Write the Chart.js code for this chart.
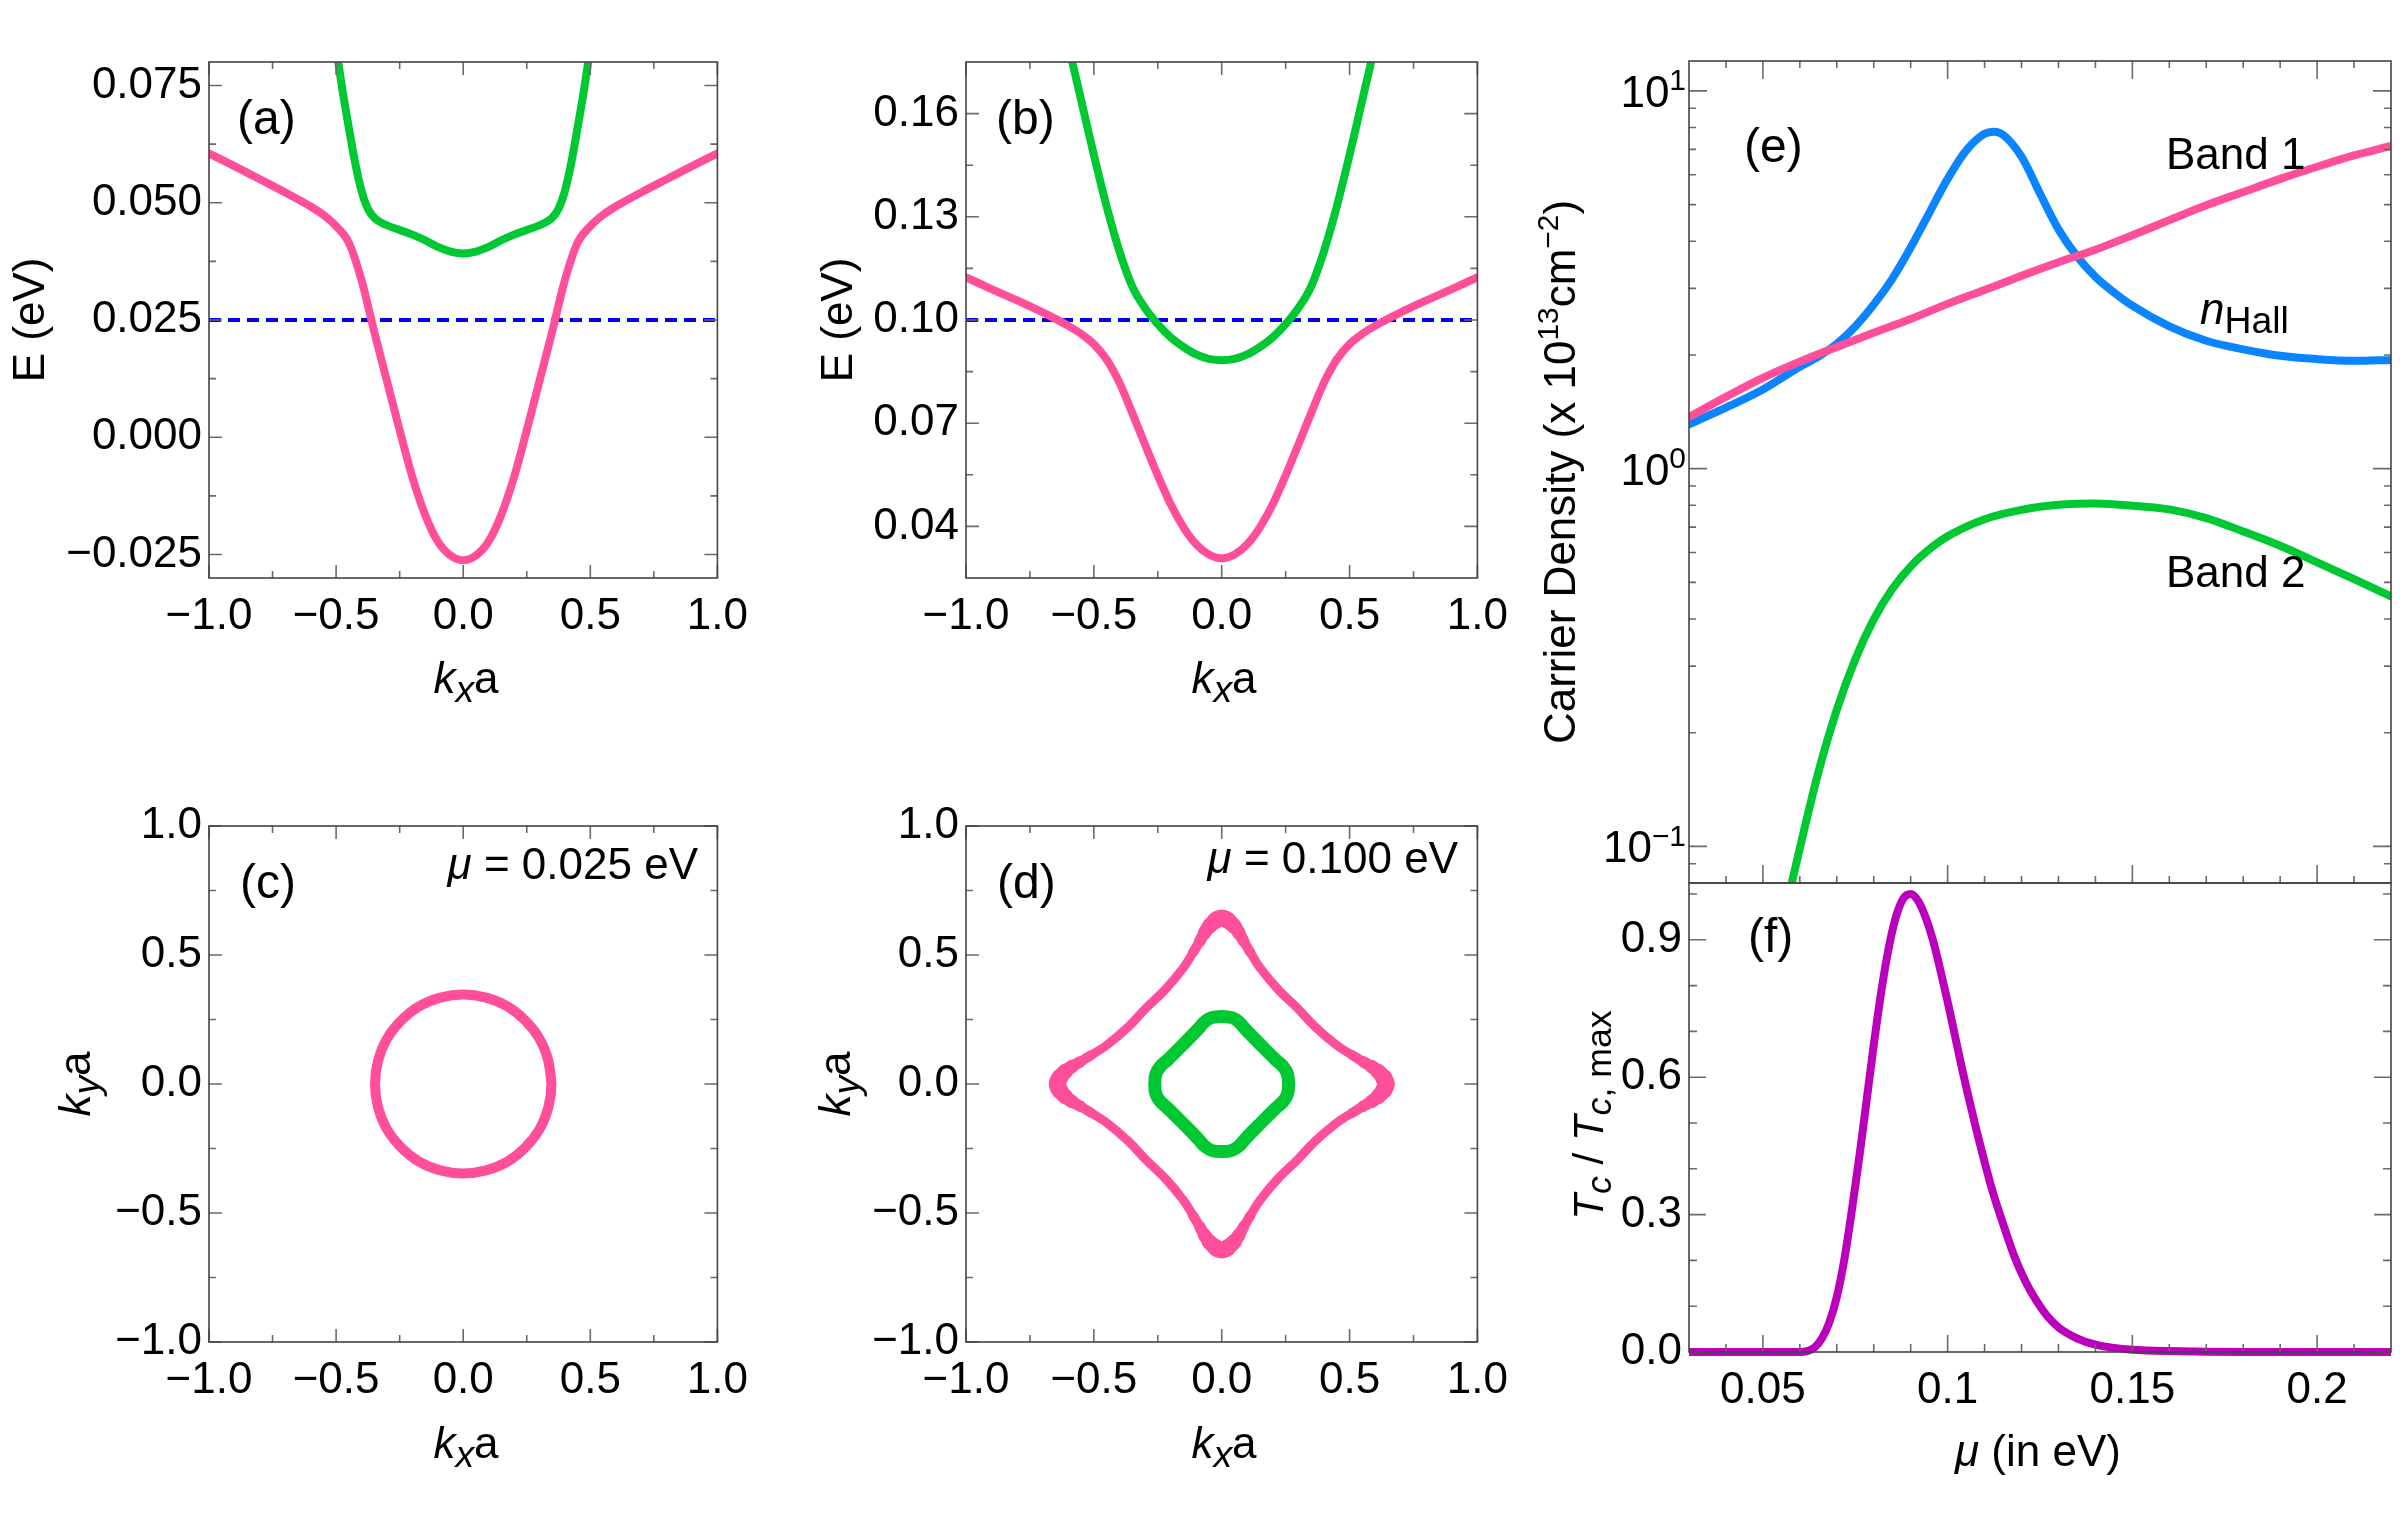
<!DOCTYPE html>
<html>
<head>
<meta charset="utf-8">
<title>Bands, Fermi surfaces and carrier density</title>
<script src="https://cdn.jsdelivr.net/npm/chart.js@4.4.1/dist/chart.umd.min.js"></script>
<style>
  html, body { margin: 0; padding: 0; background: #fff; }
  #page { position: relative; width: 2400px; height: 1521px; overflow: hidden; background: #fff; }
  canvas { position: absolute; }
</style>
</head>
<body>
<div id="page">
  <canvas id="chartA" width="760" height="740" style="left:0;top:0"></canvas>
  <canvas id="chartB" width="760" height="740" style="left:760px;top:0"></canvas>
  <canvas id="chartC" width="760" height="761" style="left:0;top:760px"></canvas>
  <canvas id="chartD" width="760" height="761" style="left:760px;top:760px"></canvas>
  <canvas id="chartE" width="900" height="890" style="left:1500px;top:0"></canvas>
  <canvas id="chartF" width="900" height="674" style="left:1500px;top:847px"></canvas>
</div>
<script>
const FONT = "'Liberation Sans', Arial, Helvetica, sans-serif";
const PINK = '#ff4f9b', GREEN = '#00c832', BLUE = '#0a84ff', PURPLE = '#bb00bb', DASH = '#0000f0';

// (a) dispersion along kx, mu = 0.025 eV
const kxA1 = [-1.0, -0.9, -0.8, -0.7, -0.6, -0.55, -0.5, -0.45, -0.4, -0.35, -0.3, -0.25, -0.2, -0.15, -0.1, -0.05, 0,
              0.05, 0.1, 0.15, 0.2, 0.25, 0.3, 0.35, 0.4, 0.45, 0.5, 0.55, 0.6, 0.7, 0.8, 0.9, 1.0];
const eA1 = [0.0605, 0.0578, 0.0550, 0.0522, 0.0492, 0.0474, 0.0450, 0.0415, 0.0335, 0.0225, 0.0120, 0.0015, -0.0085, -0.0165, -0.0222, -0.0252, -0.0262,
             -0.0252, -0.0222, -0.0165, -0.0085, 0.0015, 0.0120, 0.0225, 0.0335, 0.0415, 0.0450, 0.0474, 0.0492, 0.0522, 0.0550, 0.0578, 0.0605];
const kxA2 = [-0.5, -0.475, -0.45, -0.425, -0.4, -0.375, -0.35, -0.3, -0.25, -0.2, -0.15, -0.1, -0.05, 0,
              0.05, 0.1, 0.15, 0.2, 0.25, 0.3, 0.35, 0.375, 0.4, 0.425, 0.45, 0.475, 0.5];
const eA2 = [0.0830, 0.0740, 0.0660, 0.0585, 0.0525, 0.0487, 0.0468, 0.0452, 0.0442, 0.0432, 0.0420, 0.0406, 0.0396, 0.0392,
             0.0396, 0.0406, 0.0420, 0.0432, 0.0442, 0.0452, 0.0468, 0.0487, 0.0525, 0.0585, 0.0660, 0.0740, 0.0830];
const muA = 0.025;

// (b) dispersion along kx, mu = 0.100 eV
const kxB1 = [-1.0, -0.9, -0.8, -0.7, -0.6, -0.55, -0.5, -0.45, -0.4, -0.35, -0.3, -0.25, -0.2, -0.15, -0.1, -0.05, 0,
              0.05, 0.1, 0.15, 0.2, 0.25, 0.3, 0.35, 0.4, 0.45, 0.5, 0.55, 0.6, 0.7, 0.8, 0.9, 1.0];
const eB1 = [0.1124, 0.1090, 0.1057, 0.1022, 0.0983, 0.0960, 0.0930, 0.0885, 0.0818, 0.0730, 0.0638, 0.0548, 0.0465, 0.0398, 0.0348, 0.0318, 0.0307,
             0.0318, 0.0348, 0.0398, 0.0465, 0.0548, 0.0638, 0.0730, 0.0818, 0.0885, 0.0930, 0.0960, 0.0983, 0.1022, 0.1057, 0.1090, 0.1124];
const kxB2 = [-0.6, -0.55, -0.5, -0.45, -0.4, -0.35, -0.3, -0.25, -0.2, -0.15, -0.1, -0.05, 0,
              0.05, 0.1, 0.15, 0.2, 0.25, 0.3, 0.35, 0.4, 0.45, 0.5, 0.55, 0.6];
const eB2 = [0.1800, 0.1640, 0.1480, 0.1330, 0.1200, 0.1098, 0.1035, 0.0988, 0.0950, 0.0922, 0.0900, 0.0887, 0.0883,
             0.0887, 0.0900, 0.0922, 0.0950, 0.0988, 0.1035, 0.1098, 0.1200, 0.1330, 0.1480, 0.1640, 0.1800];
const muB = 0.100;

// (c) Fermi contour at mu = 0.025 eV
const kxC = [0.347, 0.335, 0.301, 0.245, 0.174, 0.090, 0, -0.090, -0.174, -0.245, -0.301, -0.335, -0.347,
             -0.335, -0.301, -0.245, -0.174, -0.090, 0, 0.090, 0.174, 0.245, 0.301, 0.335, 0.347, 0.335];
const kyC = [0, 0.090, 0.174, 0.245, 0.301, 0.335, 0.347, 0.335, 0.301, 0.245, 0.174, 0.090, 0,
             -0.090, -0.174, -0.245, -0.301, -0.335, -0.347, -0.335, -0.301, -0.245, -0.174, -0.090, 0, 0.090];

// (d) Fermi contours at mu = 0.100 eV
const kxD1 = [0.643, 0.633, 0.612, 0.585, 0.553, 0.510, 0.450, 0.365, 0.295, 0.222, 0.150, 0.112, 0.086, 0.068, 0.048, 0.025, 0,
              -0.025, -0.048, -0.068, -0.086, -0.112, -0.150, -0.222, -0.295, -0.365, -0.450, -0.510, -0.553, -0.585, -0.612, -0.633, -0.643,
              -0.633, -0.612, -0.585, -0.553, -0.510, -0.450, -0.365, -0.295, -0.222, -0.150, -0.112, -0.086, -0.068, -0.048, -0.025, 0,
              0.025, 0.048, 0.068, 0.086, 0.112, 0.150, 0.222, 0.295, 0.365, 0.450, 0.510, 0.553, 0.585, 0.612, 0.633, 0.643, 0.633];
const kyD1 = [0, 0.025, 0.048, 0.068, 0.086, 0.112, 0.150, 0.222, 0.295, 0.365, 0.450, 0.510, 0.553, 0.585, 0.612, 0.633, 0.643,
              0.633, 0.612, 0.585, 0.553, 0.510, 0.450, 0.365, 0.295, 0.222, 0.150, 0.112, 0.086, 0.068, 0.048, 0.025, 0,
              -0.025, -0.048, -0.068, -0.086, -0.112, -0.150, -0.222, -0.295, -0.365, -0.450, -0.510, -0.553, -0.585, -0.612, -0.633, -0.643,
              -0.633, -0.612, -0.585, -0.553, -0.510, -0.450, -0.365, -0.295, -0.222, -0.150, -0.112, -0.086, -0.068, -0.048, -0.025, 0, 0.025];
const kxD2 = [0.262, 0.257, 0.240, 0.212, 0.152, 0.093, 0.068, 0.040, 0,
              -0.040, -0.068, -0.093, -0.152, -0.212, -0.240, -0.257, -0.262,
              -0.257, -0.240, -0.212, -0.152, -0.093, -0.068, -0.040, 0,
              0.040, 0.068, 0.093, 0.152, 0.212, 0.240, 0.257, 0.262, 0.257];
const kyD2 = [0, 0.040, 0.068, 0.093, 0.152, 0.212, 0.240, 0.257, 0.262,
              0.257, 0.240, 0.212, 0.152, 0.093, 0.068, 0.040, 0,
              -0.040, -0.068, -0.093, -0.152, -0.212, -0.240, -0.257, -0.262,
              -0.257, -0.240, -0.212, -0.152, -0.093, -0.068, -0.040, 0, 0.040];

// (e) carrier densities (x 10^13 cm^-2) vs mu
const muBand1 = [0.03, 0.04, 0.05, 0.06, 0.07, 0.08, 0.09, 0.10, 0.11, 0.12, 0.13, 0.14, 0.15, 0.16, 0.17, 0.18, 0.19, 0.20, 0.21, 0.22];
const nBand1 = [1.37, 1.55, 1.74, 1.92, 2.10, 2.29, 2.49, 2.73, 2.97, 3.24, 3.52, 3.80, 4.15, 4.55, 4.98, 5.40, 5.85, 6.30, 6.75, 7.15];
const muHall = [0.030, 0.040, 0.050, 0.060, 0.065, 0.070, 0.075, 0.080, 0.085, 0.090, 0.095, 0.100, 0.105, 0.110, 0.1125,
                0.115, 0.120, 0.125, 0.130, 0.135, 0.140, 0.145, 0.150, 0.160, 0.170, 0.180, 0.190, 0.200, 0.210, 0.220];
const nHall = [1.31, 1.45, 1.62, 1.86, 1.98, 2.14, 2.38, 2.72, 3.18, 3.85, 4.75, 5.85, 6.95, 7.70, 7.80,
               7.65, 6.70, 5.35, 4.30, 3.65, 3.22, 2.93, 2.70, 2.38, 2.18, 2.07, 1.99, 1.95, 1.93, 1.94];
const muBand2 = [0.057, 0.060, 0.065, 0.070, 0.075, 0.080, 0.085, 0.090, 0.095, 0.100, 0.110, 0.120, 0.130, 0.140, 0.150,
                 0.160, 0.170, 0.180, 0.190, 0.200, 0.210, 0.220];
const nBand2 = [0.074, 0.099, 0.157, 0.230, 0.313, 0.399, 0.480, 0.551, 0.611, 0.662, 0.735, 0.778, 0.802, 0.809, 0.798,
                0.780, 0.740, 0.682, 0.625, 0.565, 0.510, 0.459];

// (f) Tc / Tc,max vs mu
const muTc = [0.030, 0.060, 0.062, 0.064, 0.066, 0.068, 0.070, 0.072, 0.074, 0.076, 0.078, 0.080, 0.082, 0.084, 0.086, 0.088,
              0.090, 0.092, 0.094, 0.096, 0.098, 0.100, 0.102, 0.104, 0.106, 0.108, 0.110, 0.112, 0.115, 0.118, 0.121,
              0.124, 0.127, 0.130, 0.135, 0.140, 0.145, 0.150, 0.160, 0.180, 0.220];
const tcRatio = [0, 0, 0.002, 0.010, 0.030, 0.065, 0.120, 0.200, 0.305, 0.420, 0.545, 0.670, 0.785, 0.880, 0.950, 0.990,
                 1.000, 0.985, 0.950, 0.900, 0.835, 0.765, 0.690, 0.615, 0.545, 0.478, 0.415, 0.355, 0.280, 0.210, 0.155,
                 0.112, 0.078, 0.054, 0.030, 0.016, 0.009, 0.005, 0.002, 0, 0];

// tick values
const kTicks = [-1, -0.5, 0, 0.5, 1];
const kMinor = [-0.75, -0.25, 0.25, 0.75];
const eTicksA = [-0.025, 0, 0.025, 0.05, 0.075];
const eMinorA = [-0.0125, 0.0125, 0.0375, 0.0625];
const eTicksB = [0.04, 0.07, 0.10, 0.13, 0.16];
const eMinorB = [0.055, 0.085, 0.115, 0.145];
const muTicks = [0.05, 0.1, 0.15, 0.2];
const muMinor = [0.04, 0.06, 0.07, 0.08, 0.09, 0.11, 0.12, 0.13, 0.14, 0.16, 0.17, 0.18, 0.19, 0.21];
const nTicks = [0.1, 1, 10];
const nMinor = [0.09, 0.2, 0.3, 0.4, 0.5, 0.6, 0.7, 0.8, 0.9, 2, 3, 4, 5, 6, 7, 8, 9];
const tcTicks = [0, 0.3, 0.6, 0.9];
const tcMinor = [0.1, 0.2, 0.4, 0.5, 0.7, 0.8, 1.0];

Chart.defaults.font.family = FONT;
Chart.defaults.font.size = 44;
Chart.defaults.color = '#000';

const fixed = d => v => (v < 0 ? '\u2212' : '') + Math.abs(v).toFixed(d);

function drawRich(ctx, it) {
  const size = it.size || 44;
  const pieces = it.parts.map(p => {
    const fs = p.sub ? size * 0.85 : p.sup ? size * 0.68 : size;
    const font = (p.i ? 'italic ' : '') + fs + 'px ' + FONT;
    ctx.font = font;
    return { t: p.t, font, w: ctx.measureText(p.t).width, dy: p.sub ? size * 0.2 : p.sup ? -size * 0.38 : 0 };
  });
  const total = pieces.reduce((s, p) => s + p.w, 0);
  ctx.save();
  ctx.translate(it.x, it.y);
  if (it.rot) ctx.rotate(it.rot);
  let cx = it.align === 'center' ? -total / 2 : it.align === 'right' ? -total : 0;
  ctx.textAlign = 'left';
  ctx.textBaseline = 'alphabetic';
  ctx.fillStyle = '#000';
  pieces.forEach(p => { ctx.font = p.font; ctx.fillText(p.t, cx, p.dy); cx += p.w; });
  ctx.restore();
}

function framePlugin(o) {
  return {
    id: 'frame',
    afterDatasetsDraw(chart) {
      const { ctx, chartArea: a, scales: { x, y } } = chart;
      ctx.save();
      ctx.lineWidth = 1.6;
      ctx.strokeStyle = '#6a6a6a';
      const mark = (scale, v, len) => {
        const p = scale.getPixelForValue(v);
        ctx.beginPath();
        if (scale.isHorizontal()) {
          ctx.moveTo(p, a.bottom); ctx.lineTo(p, a.bottom - len);
          if (!o.noTop) { ctx.moveTo(p, a.top); ctx.lineTo(p, a.top + len); }
        } else {
          ctx.moveTo(a.left, p); ctx.lineTo(a.left + len, p);
          ctx.moveTo(a.right, p); ctx.lineTo(a.right - len, p);
        }
        ctx.stroke();
      };
      x.ticks.forEach(t => mark(x, t.value, o.major));
      y.ticks.forEach(t => mark(y, t.value, o.major));
      o.xMinor.forEach(v => mark(x, v, o.minor));
      o.yMinor.forEach(v => mark(y, v, o.minor));
      ctx.strokeStyle = '#444';
      ctx.strokeRect(a.left, a.top, a.right - a.left, a.bottom - a.top);
      ctx.restore();
    }
  };
}

function notesPlugin(items) {
  return { id: 'notes', afterDraw(chart) { items.forEach(it => drawRich(chart.ctx, it)); } };
}

// superscripted power-of-ten labels for the log axis
const logLabels = {
  id: 'logLabels',
  afterDraw(chart) {
    const { ctx, chartArea: a, scales: { y } } = chart;
    y.ticks.forEach(t => {
      const e = Math.round(Math.log10(t.value));
      drawRich(ctx, { parts: [{ t: '10' }, { t: (e < 0 ? '\u2212' : '') + Math.abs(e), sup: true }],
                      x: a.left - 3, y: y.getPixelForValue(t.value) + 16, align: 'right' });
    });
  }
};

function curve(xs, ys, color, width, extra) {
  return Object.assign({
    data: xs.map((x, i) => ({ x, y: ys[i] })),
    borderColor: color, borderWidth: width, pointRadius: 0, showLine: true, fill: false,
    cubicInterpolationMode: 'monotone', clip: 0, borderCapStyle: 'round', borderJoinStyle: 'round'
  }, extra || {});
}

function loop(xs, ys, color, width, extra) {
  return curve(xs, ys, color, width, Object.assign({ cubicInterpolationMode: 'default', tension: 0.4 }, extra || {}));
}

function axis(s, horizontal, size) {
  return {
    type: s.type || 'linear', min: s.min, max: s.max,
    afterBuildTicks: sc => { sc.ticks = s.ticks.map(v => ({ value: v })); },
    afterFit: sc => { if (horizontal) sc.height = size; else sc.width = size; },
    grid: { display: false, drawTicks: false },
    border: { display: false },
    ticks: { display: !!s.fmt, callback: s.fmt || (() => ''), padding: horizontal ? 12 : 7,
             maxRotation: 0, autoSkip: false, font: { size: 44 }, color: '#000' }
  };
}

function makeChart(id, spec) {
  return new Chart(document.getElementById(id), {
    type: 'scatter',
    data: { datasets: spec.datasets },
    options: {
      responsive: false, devicePixelRatio: 1, animation: false,
      layout: { padding: spec.padding },
      plugins: { legend: { display: false }, tooltip: { enabled: false } },
      scales: { x: axis(spec.x, true, spec.xHeight), y: axis(spec.y, false, spec.yWidth) }
    },
    plugins: [framePlugin(spec.frame), notesPlugin(spec.notes)].concat(spec.extra || [])
  });
}

const kxTitle = [{ t: 'k', i: true }, { t: 'x', i: true, sub: true }, { t: 'a' }];
const kyTitle = [{ t: 'k', i: true }, { t: 'y', i: true, sub: true }, { t: 'a' }];
const eTitle = [{ t: 'E (eV)' }];
const up = -Math.PI / 2;

// (a)
makeChart('chartA', {
  padding: { left: 0, top: 62, right: 36, bottom: 62 }, yWidth: 209, xHeight: 100,
  x: { min: -1, max: 1, ticks: kTicks, fmt: fixed(1) },
  y: { min: -0.03, max: 0.08, ticks: eTicksA, fmt: fixed(3) },
  frame: { major: 13, minor: 7, xMinor: kMinor, yMinor: eMinorA },
  datasets: [
    curve(kxA1, eA1, PINK, 8),
    curve(kxA2, eA2, GREEN, 8),
    curve([-1, 1], [muA, muA], DASH, 4, { borderDash: [12, 7], borderCapStyle: 'butt' })
  ],
  notes: [
    { parts: [{ t: '(a)' }], x: 237, y: 134, size: 48 },
    { parts: kxTitle, x: 466, y: 693, align: 'center' },
    { parts: eTitle, x: 44, y: 320, align: 'center', rot: up }
  ]
});

// (b)
makeChart('chartB', {
  padding: { left: 0, top: 62, right: 38, bottom: 62 }, yWidth: 206, xHeight: 100,
  x: { min: -1, max: 1, ticks: kTicks, fmt: fixed(1) },
  y: { min: 0.025, max: 0.175, ticks: eTicksB, fmt: fixed(2) },
  frame: { major: 13, minor: 7, xMinor: kMinor, yMinor: eMinorB },
  datasets: [
    curve(kxB1, eB1, PINK, 8),
    curve(kxB2, eB2, GREEN, 8),
    curve([-1, 1], [muB, muB], DASH, 4, { borderDash: [12, 7], borderCapStyle: 'butt' })
  ],
  notes: [
    { parts: [{ t: '(b)' }], x: 236, y: 134, size: 48 },
    { parts: kxTitle, x: 464, y: 693, align: 'center' },
    { parts: eTitle, x: 92, y: 320, align: 'center', rot: up }
  ]
});

// (c)
makeChart('chartC', {
  padding: { left: 0, top: 66, right: 36, bottom: 79 }, yWidth: 209, xHeight: 100,
  x: { min: -1, max: 1, ticks: kTicks, fmt: fixed(1) },
  y: { min: -1, max: 1, ticks: kTicks, fmt: fixed(1) },
  frame: { major: 13, minor: 7, xMinor: kMinor, yMinor: kMinor },
  datasets: [loop(kxC, kyC, PINK, 10)],
  notes: [
    { parts: [{ t: '(c)' }], x: 240, y: 138, size: 48 },
    { parts: [{ t: '\u03bc', i: true }, { t: ' = ' + muA.toFixed(3) + ' eV' }], x: 698, y: 119, align: 'right' },
    { parts: kxTitle, x: 466, y: 698, align: 'center' },
    { parts: kyTitle, x: 90, y: 324, align: 'center', rot: up }
  ]
});

// (d): the outer contour is thicker near its four tips
const tipWidth = c => {
  const m = Math.min(Math.abs(c.p0.parsed.x + c.p1.parsed.x), Math.abs(c.p0.parsed.y + c.p1.parsed.y)) / 2;
  return m < 0.02 ? 17 : m < 0.045 ? 15.5 : m < 0.065 ? 13.5 : m < 0.085 ? 11.5 : m < 0.105 ? 10 : 9;
};
makeChart('chartD', {
  padding: { left: 0, top: 66, right: 38, bottom: 79 }, yWidth: 206, xHeight: 100,
  x: { min: -1, max: 1, ticks: kTicks, fmt: fixed(1) },
  y: { min: -1, max: 1, ticks: kTicks, fmt: fixed(1) },
  frame: { major: 13, minor: 7, xMinor: kMinor, yMinor: kMinor },
  datasets: [
    loop(kxD1, kyD1, PINK, 9, { segment: { borderWidth: tipWidth } }),
    loop(kxD2, kyD2, GREEN, 13)
  ],
  notes: [
    { parts: [{ t: '(d)' }], x: 237, y: 138, size: 48 },
    { parts: [{ t: '\u03bc', i: true }, { t: ' = ' + muB.toFixed(3) + ' eV' }], x: 698, y: 113, align: 'right' },
    { parts: kxTitle, x: 464, y: 698, align: 'center' },
    { parts: kyTitle, x: 90, y: 324, align: 'center', rot: up }
  ]
});

// (e)
makeChart('chartE', {
  padding: { left: 0, top: 61, right: 9, bottom: 7 }, yWidth: 189, xHeight: 0,
  x: { min: 0.03, max: 0.22, ticks: muTicks },
  y: { type: 'logarithmic', min: 0.08, max: 12, ticks: nTicks },
  frame: { major: 18, minor: 7, xMinor: muMinor, yMinor: nMinor },
  datasets: [
    curve(muBand1, nBand1, PINK, 8),
    curve(muHall, nHall, BLUE, 8),
    curve(muBand2, nBand2, GREEN, 8)
  ],
  notes: [
    { parts: [{ t: '(e)' }], x: 244, y: 162, size: 48 },
    { parts: [{ t: 'Band 1' }], x: 666, y: 169 },
    { parts: [{ t: 'n', i: true }, { t: 'Hall', sub: true }], x: 700, y: 324 },
    { parts: [{ t: 'Band 2' }], x: 666, y: 587 },
    { parts: [{ t: 'Carrier Density (x 10' }, { t: '13', sup: true }, { t: 'cm' }, { t: '\u22122', sup: true }, { t: ')' }],
      x: 75, y: 472, align: 'center', rot: up }
  ],
  extra: [logLabels]
});

// (f)
makeChart('chartF', {
  padding: { left: 0, top: 36, right: 9, bottom: 69 }, yWidth: 189, xHeight: 100,
  x: { min: 0.03, max: 0.22, ticks: muTicks, fmt: v => String(v) },
  y: { min: 0, max: 1.024, ticks: tcTicks, fmt: fixed(1) },
  frame: { major: 17, minor: 8, xMinor: muMinor, yMinor: tcMinor, noTop: true },
  datasets: [curve(muTc, tcRatio, PURPLE, 8, { clip: { left: 0, top: 0, right: 0, bottom: 5 } })],
  notes: [
    { parts: [{ t: '(f)' }], x: 248, y: 105, size: 48 },
    { parts: [{ t: 'T', i: true }, { t: 'c', i: true, sub: true }, { t: ' / ' }, { t: 'T', i: true },
              { t: 'c', i: true, sub: true }, { t: ', max', sub: true }],
      x: 103, y: 268, align: 'center', rot: up, size: 42 },
    { parts: [{ t: '\u03bc', i: true }, { t: ' (in eV)' }], x: 538, y: 619, align: 'center' }
  ]
});
</script>
</body>
</html>
